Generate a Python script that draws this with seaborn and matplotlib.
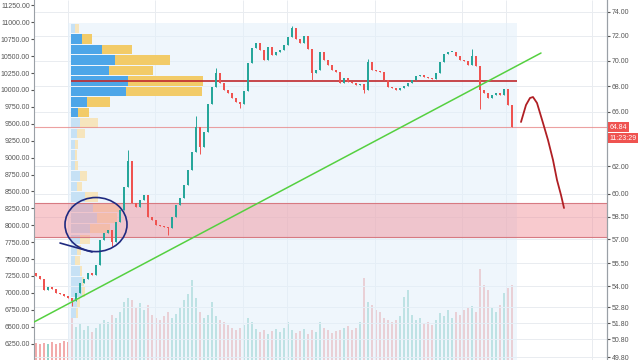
import numpy as np
import matplotlib.pyplot as plt
from matplotlib.patches import Ellipse, Rectangle
import seaborn as sns

sns.set_style('white')
plt.rcParams['font.family'] = ['Liberation Sans', 'DejaVu Sans']

# candle closes (one per bar), first bar opens at first_open
first_open = 7300
closes = [7250, 7200, 7040, 7080, 7060, 7000, 6980, 6950, 6920, 6880,
          7000, 7150, 7200, 7300, 7270, 7410, 7780, 7880, 7930, 7750,
          8050, 8230, 8560, 8950, 8330, 8270, 8370, 8450, 8120, 8080,
          8000, 7990, 7970, 7960, 8120, 8300, 8400, 8590, 8820, 9080,
          9450, 9150, 9380, 9800, 10050, 10250, 10100, 10000, 9950, 9880,
          9820, 9800, 9980, 10400, 10620, 10700, 10590, 10450, 10640, 10520,
          10560, 10590, 10670, 10780, 10920, 10760, 10700, 10800, 10600, 10250,
          10300, 10560, 10440, 10370, 10300, 10260, 10100, 10180, 10120, 10100,
          10070, 10090, 10000, 10420, 10300, 10280, 10260, 10150, 10050, 10030,
          10000, 10030, 10060, 10100, 10150, 10210, 10220, 10190, 10180, 10160,
          10250, 10420, 10530, 10560, 10560, 10500, 10440, 10430, 10370, 10500,
          10350, 10000, 9950, 9880, 9920, 9960, 9930, 10020, 9780, 9450]
wick_highs = {23: 9120, 40: 9620, 45: 10330, 64: 10950, 83: 10460, 109: 10600}
wick_lows = {9: 6800, 19: 7700, 33: 7860, 41: 9050, 51: 9740, 69: 10150, 82: 9950, 111: 9720}

volumes = [17, 16, 17, 16, 18, 16, 17, 19, 18, 48,
           33, 36, 30, 34, 28, 32, 36, 40, 38, 45,
           42, 48, 58, 62, 60, 52, 57, 50, 55, 45,
           42, 40, 44, 48, 42, 46, 52, 60, 66, 80,
           62, 48, 42, 45, 58, 44, 40, 38, 35, 32,
           30, 32, 35, 42, 38, 31, 28, 30, 26, 29,
           31, 28, 32, 38, 30, 27, 29, 31, 26, 30,
           28, 38, 32, 30, 27, 29, 30, 32, 34, 30,
           32, 38, 82, 58, 55, 50, 48, 42, 40, 38,
           40, 44, 63, 70, 45, 40, 42, 36, 38, 35,
           40, 47, 44, 50, 42, 48, 45, 50, 52, 54,
           48, 91, 75, 70, 52, 48, 55, 67, 72, 75]

# volume profile rows, top to bottom
profile_top = 10991
profile_row = 156
profile_up = [4, 11, 31, 44, 38, 57, 55, 16, 7, 9, 6, 4, 4, 4,
              9, 6, 14, 22, 26, 19, 9, 6, 4, 9, 11, 11, 6, 5]
profile_down = [4, 10, 30, 55, 44, 75, 76, 23, 11, 18, 8, 3, 2, 3,
                7, 5, 13, 27, 20, 20, 10, 4, 5, 2, 2, 3, 3, 2]
value_area = range(1, 9)

left_ticks = list(range(6250, 11500, 250))
right_labels = ['74.00', '72.00', '70.00', '68.00', '66.00', '62.00', '60.00', '58.50',
                '57.00', '55.50', '54.00', '52.80', '51.80', '50.80', '49.80']
right_label_at = [11154, 10799, 10429, 10059, 9675, 8876, 8462, 8122,
                  7796, 7441, 7101, 6790, 6554, 6317, 6051]
time_grid = [8, 29.75, 51.75, 62.75, 84.75, 106.5, 117.5, 139]

last_price = 9450
poc_price = 10140
zone_low, zone_high = 7825, 8330
trend_x, trend_y = [-0.5, 126.25], [6569, 10547]
curve_x = [121.25, 122.5, 123.5, 124.25, 125.25, 126.75, 128, 129.25, 130.25, 131.25, 132]
curve_y = [9527, 9778, 9882, 9896, 9808, 9512, 9260, 8965, 8669, 8447, 8255]
tail_x, tail_y = [6, 14], [7737, 7604]

closes = np.array(closes, dtype=float)
opens = np.concatenate([[first_open], closes[:-1]])
highs = np.maximum(opens, closes)
lows = np.minimum(opens, closes)
for k, v in wick_highs.items():
    highs[k] = v
for k, v in wick_lows.items():
    lows[k] = v
idx = np.arange(len(closes))
up = closes >= opens

xlim = (-0.5, 142.75)
ylim = (6007, 11331)

fig = plt.figure(figsize=(6.4, 3.6), dpi=100, facecolor='white')
rect = [34 / 640, 0, 573 / 640, 1]

# volume bars in their own axes behind the price pane
axv = fig.add_axes(rect, zorder=0)
axv.bar(idx, volumes, width=0.7, color=np.where(up, '#93d3c9', '#f2abab'), linewidth=0)
axv.set_xlim(xlim)
axv.set_ylim(0, 360)
axv.axis('off')

ax = fig.add_axes(rect, zorder=1)
ax.patch.set_alpha(0)
ax.set_xlim(xlim)
ax.set_ylim(ylim)

ax.hlines(right_label_at, *xlim, color='#e9ecf0', lw=0.7, zorder=0)
ax.vlines(time_grid, *ylim, color='#e9ecf0', lw=0.7, zorder=0)
ax.add_patch(Rectangle((8, ylim[0]), 112.25, profile_top - ylim[0],
                       color='#e3f0fb', alpha=0.55, lw=0, zorder=0.5))

# volume profile
for r in range(len(profile_up)):
    bottom = profile_top - (r + 1) * profile_row + 8
    h = profile_row - 16
    solid = r in value_area
    bu = profile_up[r] / 4
    bd = profile_down[r] / 4
    ax.barh(bottom, bu, height=h, left=8.75, align='edge', lw=0,
            color='#4da6e8' if solid else '#c6e1f5', zorder=1)
    ax.barh(bottom, bd, height=h, left=8.75 + bu, align='edge', lw=0,
            color='#f2cb68' if solid else '#f6e5bd', zorder=1)

ax.axhline(last_price, color='#e88a8a', lw=0.8, alpha=0.8, zorder=1.5)
ax.hlines(poc_price, 8.75, 120.25, color='#c0282d', lw=1.2, zorder=1.6)

# support zone
ax.add_patch(Rectangle((xlim[0], zone_low), xlim[1] - xlim[0], zone_high - zone_low,
                       facecolor='#f08a94', alpha=0.45, edgecolor='none', zorder=2))
ax.hlines([zone_low, zone_high], *xlim, color='#d77a82', lw=0.8, zorder=2)

# candles
cols = np.where(up, '#26a69a', '#ef5350')
ax.vlines(idx, lows, highs, colors=cols, lw=0.7, zorder=3)
ax.bar(idx, np.maximum(np.abs(closes - opens), 15), bottom=np.minimum(opens, closes),
       width=0.55, color=cols, lw=0, zorder=3)

# drawings
sns.lineplot(x=trend_x, y=trend_y, ax=ax, color='#55d040', lw=1.1, zorder=4)
sns.lineplot(x=curve_x, y=curve_y, ax=ax, color='#b01f24', lw=1.3, zorder=4)
ax.add_patch(Ellipse((15, 8010), 15.5, 800, fill=False, edgecolor='#1f2a80', lw=1.2, zorder=4))
sns.lineplot(x=tail_x, y=tail_y, ax=ax, color='#1f2a80', lw=1.2, zorder=4)

# axes styling
for s in ['top', 'bottom']:
    ax.spines[s].set_visible(False)
for s in ['left', 'right']:
    ax.spines[s].set_color('#9aa0a6')
    ax.spines[s].set_linewidth(0.8)
ax.set_xticks([])
ax.set_yticks(left_ticks)
ax.set_yticklabels([f'{t:.2f}' for t in left_ticks])
ax.tick_params(axis='y', labelsize=5, colors='#555555', length=2, pad=1)

axr = ax.twinx()
axr.set_ylim(ylim)
axr.set_yticks(right_label_at)
axr.set_yticklabels(right_labels)
axr.tick_params(axis='y', labelsize=5, colors='#555555', length=2, pad=1.5)
for s in ['top', 'bottom', 'left']:
    axr.spines[s].set_visible(False)
axr.spines['right'].set_color('#9aa0a6')

box = dict(boxstyle='square,pad=0.25', facecolor='#ef5350', edgecolor='none')
axr.text(1.004, last_price, '64.84', transform=axr.get_yaxis_transform(), fontsize=5,
         color='white', va='center', ha='left', bbox=box, zorder=6)
axr.text(1.004, 9290, '11:23:29', transform=axr.get_yaxis_transform(), fontsize=5,
         color='white', va='center', ha='left', bbox=box, zorder=6)

fig.savefig('out.png', dpi=100, facecolor='white')
